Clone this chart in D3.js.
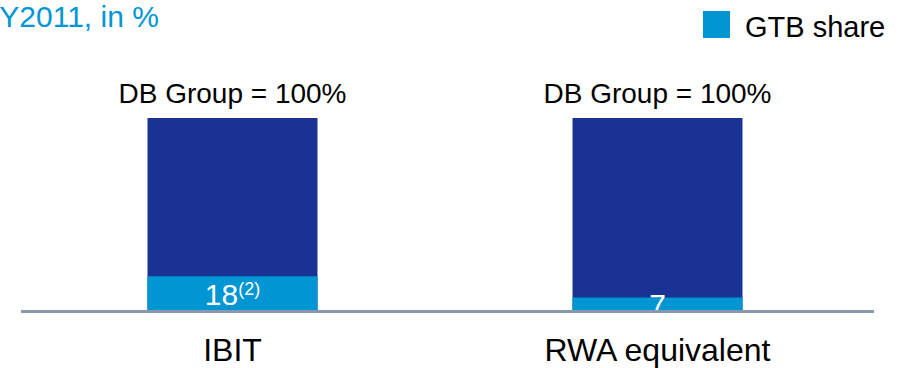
<!DOCTYPE html>
<html>
<head>
<meta charset="utf-8">
<script src="https://cdn.jsdelivr.net/npm/d3@7"></script>
<style>
  body { margin: 0; background: #fff; }
  svg { display: block; font-family: "Liberation Sans", Arial, sans-serif; }
</style>
</head>
<body>
<div id="chart"></div>
<script>
// data
var categories = ["IBIT", "RWA equivalent"];
var totals = [100, 100];
var gtbShare = [18, 7];
var footnotes = ["(2)", ""];
var totalLabel = "DB Group = 100%";
var titleText = "FY2011, in %";
var legendText = "GTB share";

var width = 906, height = 368;
var darkBlue = "#1a3293", lightBlue = "#0096d3";

var svg = d3.select("#chart").append("svg")
  .attr("width", width)
  .attr("height", height);

// scales
var x = d3.scaleBand()
  .domain(categories)
  .range([20, 870])
  .paddingInner(0.6)
  .paddingOuter(0.3);

var y = d3.scaleLinear()
  .domain([0, 100])
  .range([311, 118]);

// title (cut at left edge like the slide)
svg.append("text")
  .attr("x", -19)
  .attr("y", 27)
  .style("font-size", "30px")
  .style("fill", "#0096d6")
  .text(titleText);

// legend
svg.append("rect")
  .attr("x", 703).attr("y", 11)
  .attr("width", 27).attr("height", 27)
  .style("fill", lightBlue);
svg.append("text")
  .attr("x", 745).attr("y", 37)
  .style("font-size", "29px")
  .style("fill", "#000")
  .text(legendText);

var rows = categories.map(function (c, i) {
  return { cat: c, total: totals[i], share: gtbShare[i], note: footnotes[i] };
});

// total bars
svg.selectAll(".total")
  .data(rows).enter()
  .append("rect")
  .attr("class", "total")
  .attr("x", function (d) { return x(d.cat); })
  .attr("y", function (d) { return y(d.total); })
  .attr("width", x.bandwidth())
  .attr("height", function (d) { return y(0) - y(d.total); })
  .style("fill", darkBlue);

// GTB share bars
svg.selectAll(".share")
  .data(rows).enter()
  .append("rect")
  .attr("class", "share")
  .attr("x", function (d) { return x(d.cat); })
  .attr("y", function (d) { return y(d.share); })
  .attr("width", x.bandwidth())
  .attr("height", function (d) { return y(0) - y(d.share); })
  .style("fill", lightBlue);

// total labels above bars
svg.selectAll(".totLabel")
  .data(rows).enter()
  .append("text")
  .attr("class", "totLabel")
  .attr("x", function (d) { return x(d.cat) + x.bandwidth() / 2; })
  .attr("y", function (d) { return y(d.total) - 15; })
  .attr("text-anchor", "middle")
  .style("font-size", "28px")
  .text(totalLabel);

// share value labels
var vl = svg.selectAll(".valLabel")
  .data(rows).enter()
  .append("text")
  .attr("class", "valLabel")
  .attr("x", function (d) { return x(d.cat) + x.bandwidth() / 2; })
  .attr("y", function (d) { return (y(d.share) + y(0)) / 2 + 11; })
  .attr("text-anchor", "middle")
  .style("fill", "#fff")
  .style("font-size", "30px");
vl.append("tspan").text(function (d) { return d.share; });
vl.append("tspan")
  .attr("dy", -10)
  .style("font-size", "18px")
  .text(function (d) { return d.note; });

// baseline
svg.append("line")
  .attr("x1", 21).attr("x2", 874)
  .attr("y1", y(0) + 0.5).attr("y2", y(0) + 0.5)
  .style("stroke", "#8898ae")
  .style("stroke-width", 3);

// category labels
svg.selectAll(".catLabel")
  .data(categories).enter()
  .append("text")
  .attr("class", "catLabel")
  .attr("x", function (d) { return x(d) + x.bandwidth() / 2; })
  .attr("y", 361)
  .attr("text-anchor", "middle")
  .style("font-size", "32px")
  .text(function (d) { return d; });
</script>
</body>
</html>
